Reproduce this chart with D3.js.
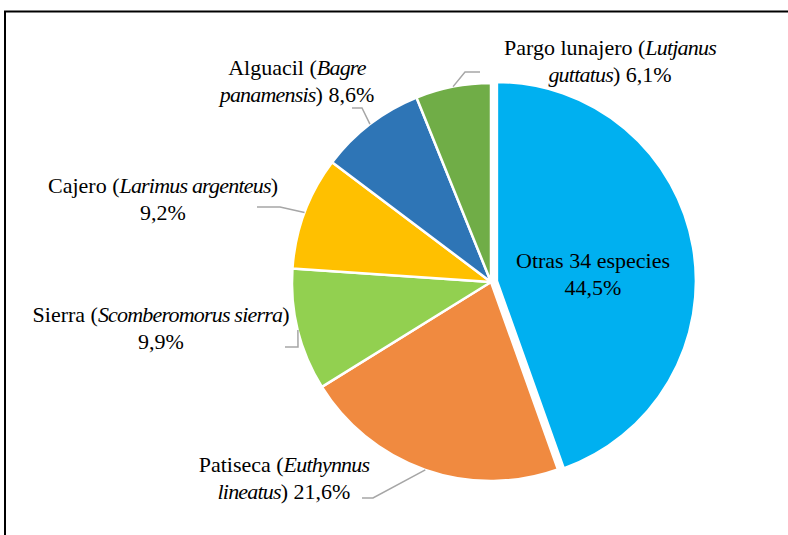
<!DOCTYPE html>
<html>
<head>
<meta charset="utf-8">
<script src="https://cdn.jsdelivr.net/npm/d3@7"></script>
<style>
  body { margin: 0; background: #fff; }
  svg { display: block; }
  .lbl { font-family: "Liberation Serif", "DejaVu Serif", "Times New Roman", serif; font-size: 22px; }
  .it { font-style: italic; letter-spacing: -0.8px; }
</style>
</head>
<body>
<div id="chart"></div>
<script>
// data (percent of catch)
var species = ["Otras 34 especies", "Patiseca", "Sierra", "Cajero", "Alguacil", "Pargo lunajero"]
var latin = ["", "Euthynnus lineatus", "Scomberomorus sierra", "Larimus argenteus", "Bagre panamensis", "Lutjanus guttatus"]
var values = [44.5, 21.6, 9.9, 9.2, 8.6, 6.1]
var colors = ["#00B0F0", "#F08A40", "#92D050", "#FFC000", "#2E75B6", "#70AD47"]

// label text lines: each line is a list of [text, italic]
var labelLines = [
  [[["Otras 34 especies", false]], [["44,5%", false]]],
  [[["Patiseca (", false], ["Euthynnus", true]], [["lineatus", true], [") 21,6%", false]]],
  [[["Sierra (", false], ["Scomberomorus sierra", true], [")", false]], [["9,9%", false]]],
  [[["Cajero (", false], ["Larimus argenteus", true], [")", false]], [["9,2%", false]]],
  [[["Alguacil (", false], ["Bagre", true]], [["panamensis", true], [") 8,6%", false]]],
  [[["Pargo lunajero (", false], ["Lutjanus", true]], [["guttatus", true], [") 6,1%", false]]]
]

var width = 788, height = 535
var cx = 491, cy = 282, radius = 199
var explode = 6

// label centres (x, first baseline) and leader elbows
var labelPos = [[593, 268], [284, 472], [161, 322], [163, 193], [297, 75], [610, 55]]
var leaders = [
  null,
  [[373, 498], [362, 498]],
  [[298, 347], [285, 347]],
  [[280, 207], [257, 207]],
  [[362, 108], [352, 108]],
  [[465, 72], [480, 72]]
]

var svg = d3.select("#chart").append("svg").attr("width", width).attr("height", height)

// frame
svg.append("line").attr("x1", 4).attr("x2", width).attr("y1", 11.5).attr("y2", 11.5)
  .attr("stroke", "#000").attr("stroke-width", 2)
svg.append("line").attr("x1", 5).attr("x2", 5).attr("y1", 11).attr("y2", height)
  .attr("stroke", "#000").attr("stroke-width", 2)

var pie = d3.pie().sort(null).value(function(d) { return d })
var arcs = pie(values)
var arc = d3.arc().innerRadius(0).outerRadius(radius)

var g = svg.append("g").attr("transform", "translate(" + cx + "," + cy + ")")

g.selectAll(".slice")
  .data(arcs)
  .enter().append("path")
  .attr("class", "slice")
  .attr("d", arc)
  .attr("fill", function(d, i) { return colors[i] })
  .attr("stroke", "#fff")
  .attr("stroke-width", 2.5)
  .attr("stroke-linejoin", "round")
  .attr("transform", function(d, i) {
    if (i != 0) return null
    var a = (d.startAngle + d.endAngle) / 2
    return "translate(" + (Math.sin(a) * explode) + "," + (-Math.cos(a) * explode) + ")"
  })

// leader lines from the arc edge at mid angle
arcs.forEach(function(d, i) {
  if (!leaders[i]) return
  var a = (d.startAngle + d.endAngle) / 2
  var p0 = [cx + Math.sin(a) * radius, cy - Math.cos(a) * radius]
  var pts = [p0].concat(leaders[i])
  svg.append("path")
    .attr("d", d3.line()(pts))
    .attr("fill", "none")
    .attr("stroke", "#A6A6A6")
    .attr("stroke-width", 1.5)
})

// labels
labelLines.forEach(function(lines, i) {
  var t = svg.append("text")
    .attr("class", "lbl")
    .attr("x", labelPos[i][0])
    .attr("y", labelPos[i][1])
    .attr("text-anchor", "middle")
    .attr("fill", "#000")
  lines.forEach(function(line, j) {
    line.forEach(function(part, k) {
      var s = t.append("tspan").text(part[0])
      if (part[1]) s.attr("class", "it")
      if (k == 0) s.attr("x", labelPos[i][0]).attr("dy", j == 0 ? 0 : 27)
    })
  })
})
</script>
</body>
</html>
